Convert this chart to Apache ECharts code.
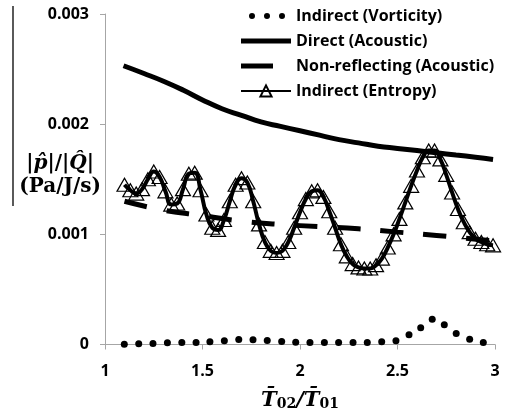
<!DOCTYPE html>
<html>
<head>
<meta charset="utf-8">
<script src="https://cdn.jsdelivr.net/npm/echarts@6/dist/echarts.min.js"></script>
<style>
  html, body { margin: 0; padding: 0; background: #fff; }
  #chart { width: 509px; height: 410px; }
</style>
</head>
<body>
<div id="chart"></div>
<script>
// Indirect (Vorticity) - dots
const vortX = [1.099, 1.173, 1.246, 1.32, 1.394, 1.467, 1.538, 1.612, 1.686, 1.759, 1.832, 1.906, 1.978, 2.051,
  2.125, 2.198, 2.272, 2.345, 2.419, 2.492, 2.559, 2.619, 2.678, 2.74, 2.801, 2.87, 2.94];
const vortY = [0.000003, 0.000006, 0.000009, 0.000015, 0.000018, 0.000018, 0.000024, 0.000033, 0.000045, 0.000042,
  0.000036, 0.000027, 0.000021, 0.000018, 0.000018, 0.000018, 0.000018, 0.000018, 0.000024, 0.000033,
  0.000088, 0.000152, 0.000230, 0.000179, 0.000100, 0.000048, 0.000018];

// Direct (Acoustic)
const directX = [1.095, 1.2, 1.3, 1.4, 1.5, 1.6, 1.7, 1.8, 1.9, 2.0, 2.1, 2.2, 2.3, 2.4, 2.5, 2.6, 2.7, 2.8, 2.9, 2.99];
const directY = [0.00253, 0.00246, 0.00239, 0.00231, 0.00222, 0.00214, 0.00208, 0.00202, 0.00198, 0.00194,
  0.00190, 0.00186, 0.00183, 0.00180, 0.00178, 0.00176, 0.00174, 0.00172, 0.00170, 0.00168];

// Non-reflecting (Acoustic)
const nonReflX = [1.1, 1.3, 1.5, 1.7, 1.9, 2.1, 2.3, 2.5, 2.7, 2.99];
const nonReflY = [0.00130, 0.00122, 0.00117, 0.00112, 0.00109, 0.00107, 0.00105, 0.00102, 0.00099, 0.00094];

// Indirect (Entropy)
const entropyX = [1.10, 1.13, 1.16, 1.19, 1.22, 1.25, 1.28, 1.31, 1.34, 1.37, 1.40, 1.43, 1.46, 1.49, 1.52,
  1.55, 1.58, 1.61, 1.64, 1.67, 1.70, 1.73, 1.76, 1.79, 1.82, 1.85, 1.88, 1.91, 1.94, 1.97, 2.00, 2.03,
  2.06, 2.09, 2.12, 2.15, 2.18, 2.21, 2.24, 2.27, 2.30, 2.33, 2.36, 2.39, 2.42, 2.45, 2.48, 2.51, 2.54,
  2.57, 2.60, 2.63, 2.66, 2.69, 2.72, 2.75, 2.78, 2.81, 2.84, 2.87, 2.90, 2.93, 2.96, 2.99];
const entropyY = [0.00145, 0.00140, 0.00137, 0.00141, 0.00150, 0.00157, 0.00152, 0.00139, 0.00127, 0.00128,
  0.00141, 0.00155, 0.00156, 0.00140, 0.00118, 0.00106, 0.00104, 0.00113, 0.00130, 0.00145, 0.00151,
  0.00147, 0.00130, 0.00109, 0.00093, 0.00085, 0.00083, 0.00085, 0.00093, 0.00106, 0.00120, 0.00132,
  0.00139, 0.00140, 0.00134, 0.00121, 0.00106, 0.00091, 0.00080, 0.00073, 0.00070, 0.00069, 0.00069,
  0.00072, 0.00078, 0.00088, 0.00100, 0.00114, 0.00129, 0.00144, 0.00158, 0.00170, 0.00176, 0.00176,
  0.00168, 0.00154, 0.00138, 0.00123, 0.00111, 0.00102, 0.00096, 0.00093, 0.00091, 0.00090];

const xTicks = [1, 1.5, 2, 2.5, 3];
const yTicks = [0, 0.001, 0.002, 0.003];

const pairs = (xs, ys) => xs.map((x, i) => [x, ys[i]]);

const tickFont = { color: '#000', fontFamily: 'Open Sans', fontWeight: 'bold', fontSize: 16 };

// legend icons (drawn in a 50 x 14 box)
const dot = cx => `M${cx - 3},3a3,3 0 1,0 6,0a3,3 0 1,0 -6,0Z`;
const dotsIcon = 'path://M0,3L0,3' + dot(11) + dot(26) + dot(41) + 'M50,3L50,3';
const solidIcon = 'path://M0,0H50V5H0Z';
const dashIcon = 'path://M0,0H32V5H0ZM50,2.5L50,2.5';

const chart = echarts.init(document.getElementById('chart'), null, { renderer: 'canvas' });

const serifB = { fontFamily: 'DejaVu Serif', fontWeight: 'bold', fontSize: 20, color: '#000', lineHeight: 23, align: 'center' };

const option = {
  animation: false,
  backgroundColor: '#fff',
  grid: { left: 105, right: 14, top: 14, bottom: 65.5, containLabel: false, outerBoundsMode: 'none' },
  legend: {
    orient: 'vertical',
    left: 235,
    top: 3,
    itemWidth: 50,
    itemHeight: 14,
    itemGap: 9,
    textStyle: { color: '#000', fontFamily: 'Open Sans', fontWeight: 'bold', fontSize: 16 },
    data: [
      { name: 'Indirect (Vorticity)', icon: dotsIcon },
      { name: 'Direct (Acoustic)', icon: solidIcon },
      { name: 'Non-reflecting (Acoustic)', icon: dashIcon },
      { name: 'Indirect (Entropy)' }
    ]
  },
  xAxis: {
    type: 'value',
    min: 1,
    max: 3,
    interval: 0.5,
    name: '{t|T\u0304}{s|02}{t|/T\u0304}{s|01}',
    nameLocation: 'middle',
    nameGap: 45,
    nameMoveOverlap: false,
    nameTextStyle: {
      rich: {
        t: { fontFamily: 'DejaVu Serif', fontStyle: 'italic', fontWeight: 'bold', fontSize: 21, color: '#000' },
        s: { fontFamily: 'DejaVu Serif', fontWeight: 'bold', fontSize: 14, color: '#000', verticalAlign: 'bottom', padding: [8, 0, 0, 0] }
      }
    },
    axisLine: { show: true, lineStyle: { color: '#a6a6a6', width: 1 } },
    axisTick: { show: true, length: 5, lineStyle: { color: '#a6a6a6' } },
    axisLabel: { ...tickFont, margin: 19, formatter: v => (xTicks.includes(v) ? String(v) : '') },
    splitLine: { show: false }
  },
  yAxis: {
    type: 'value',
    min: 0,
    max: 0.003,
    interval: 0.001,
    name: '{b||}{i|p\u0302}{b||/|}{i|Q\u0302}{b||}\n{b|(Pa/J/s)}',
    nameLocation: 'middle',
    nameRotate: 0,
    nameGap: 4,
    nameMoveOverlap: false,
    nameTextStyle: {
      padding: [0, 0, 8, 0],
      rich: {
        b: serifB,
        i: { ...serifB, fontStyle: 'italic' }
      }
    },
    axisLine: { show: true, lineStyle: { color: '#a6a6a6', width: 1 } },
    axisTick: { show: true, length: 5, lineStyle: { color: '#a6a6a6' } },
    axisLabel: { ...tickFont, margin: 16, formatter: v => (yTicks.includes(+v.toFixed(4)) ? (v === 0 ? '0' : v.toFixed(3)) : '') },
    splitLine: { show: false }
  },
  series: [
    {
      name: 'Indirect (Vorticity)',
      type: 'line',
      data: pairs(vortX, vortY),
      symbol: 'circle',
      symbolSize: 7,
      itemStyle: { color: '#000' },
      lineStyle: { width: 0, opacity: 0 },
      z: 3
    },
    {
      name: 'Direct (Acoustic)',
      type: 'line',
      data: pairs(directX, directY),
      symbol: 'none',
      smooth: true,
      itemStyle: { color: '#000' },
      lineStyle: { color: '#000', width: 5 }
    },
    {
      name: 'Non-reflecting (Acoustic)',
      type: 'line',
      data: pairs(nonReflX, nonReflY),
      symbol: 'none',
      smooth: true,
      itemStyle: { color: '#000' },
      lineStyle: { color: '#000', width: 5, type: [23, 20] }
    },
    {
      name: 'Indirect (Entropy)',
      type: 'line',
      data: pairs(entropyX, entropyY),
      smooth: true,
      symbol: 'triangle',
      symbolSize: [15, 13],
      itemStyle: { color: 'rgba(255,255,255,0)', borderColor: '#000', borderWidth: 1.2 },
      lineStyle: { color: '#000', width: 4 }
    }
  ],
  graphic: [
    { type: 'line', shape: { x1: 13, y1: 6, x2: 13, y2: 206 }, style: { stroke: '#000', lineWidth: 1.3 } }
  ]
};

chart.setOption(option);
</script>
</body>
</html>
